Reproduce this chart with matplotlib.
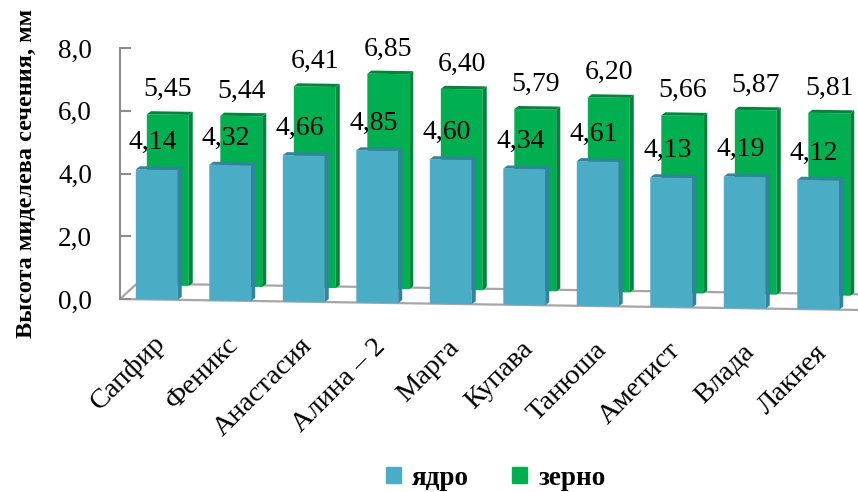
import matplotlib.pyplot as plt
from matplotlib.patches import Polygon, Patch
from matplotlib.transforms import Affine2D

# data
varieties = ["Сапфир", "Феникс", "Анастасия", "Алина – 2", "Марга",
             "Купава", "Танюша", "Аметист", "Влада", "Лакнея"]
kernel = [4.14, 4.32, 4.66, 4.85, 4.60, 4.34, 4.61, 4.13, 4.19, 4.12]
grain = [5.45, 5.44, 6.41, 6.85, 6.40, 5.79, 6.20, 5.66, 5.87, 5.81]
yticks = [0, 2, 4, 6, 8]

c_kernel, c_kernel_dark = "#4bacc6", "#31849b"
c_grain, c_grain_dark = "#00b050", "#00863c"
grid_c = "#8c8c8c"

plt.rcParams["font.family"] = ["Liberation Serif", "DejaVu Serif"]

fig = plt.figure(figsize=(8.58, 4.92), dpi=100)
ax = fig.add_axes([120 / 858, 193 / 492, 735 / 858, 251 / 492])
ax.set_xlim(-0.5, 9.5)
ax.set_ylim(0, 8)

# slight perspective tilt of the floor (bars drift down to the right)
x0, y0 = 120, 193
tilt = Affine2D().translate(-x0, -y0).skew_deg(0, -0.85).translate(x0, y0)
tr = ax.transData + tilt

w = 0.57           # bar width
dx, dy = 0.15, 0.45  # depth offset of the back row
sx, sy = 0.055, 0.1  # side / top face depth

# floor
floor = Polygon([(-0.5, 0), (9.6, 0), (9.6 + 0.23, 0.5), (-0.5 + 0.23, 0.5)],
                closed=True, facecolor="white", edgecolor="#a6a6a6", lw=1.6,
                transform=tr, zorder=1, clip_on=False)
ax.add_patch(floor)


def bar3d(xc, base, val, front, dark, z):
    ax.bar(xc, val - base, bottom=base, width=w, color=front, transform=tr,
           zorder=z, clip_on=False, linewidth=0)
    r = xc + w / 2
    l = xc - w / 2
    ax.add_patch(Polygon([(r, base), (r + sx, base + sy), (r + sx, val + sy), (r, val)],
                         closed=True, facecolor=dark, lw=0, transform=tr, zorder=z,
                         clip_on=False))
    ax.add_patch(Polygon([(l, val), (r, val), (r + sx, val + sy), (l + sx, val + sy)],
                         closed=True, facecolor=dark, lw=0, transform=tr, zorder=z,
                         clip_on=False))


for i in range(len(varieties)):
    bar3d(i + dx, dy, grain[i] + dy, c_grain, c_grain_dark, 2)
for i in range(len(varieties)):
    bar3d(i, 0, kernel[i], c_kernel, c_kernel_dark, 3)

# value labels
for i in range(len(varieties)):
    ax.annotate(f"{grain[i]:.2f}".replace(".", ","), (i + dx, grain[i] + dy),
                xycoords=tr, xytext=(0, 25), textcoords="offset pixels",
                ha="center", va="center", fontsize=20, zorder=5)
    ax.annotate(f"{kernel[i]:.2f}".replace(".", ","), (i, kernel[i]),
                xycoords=tr, xytext=(-4, 27), textcoords="offset pixels",
                ha="center", va="center", fontsize=20, zorder=5)

# category labels
for i, name in enumerate(varieties):
    ax.annotate(name, (i, 0), xycoords=tr, xytext=(5, -40),
                textcoords="offset pixels", ha="right", va="center",
                rotation=45, rotation_mode="anchor", fontsize=20.5)

# axes styling
for s in ["top", "right", "bottom"]:
    ax.spines[s].set_visible(False)
ax.spines["left"].set_color(grid_c)
ax.spines["left"].set_linewidth(1.5)
ax.set_xticks([])
ax.set_yticks(yticks)
ax.set_yticklabels([f"{v:.1f}".replace(".", ",") for v in yticks], fontsize=19.5)
ax.tick_params(axis="y", direction="in", length=8, width=1.5, color=grid_c, pad=20)
ax.set_ylabel("Высота миделева сечения, мм", fontsize=17.5, fontweight="bold",
              labelpad=15)

handles = [Patch(color=c_kernel, label="ядро"), Patch(color=c_grain, label="зерно")]
fig.legend(handles=handles, loc="center", bbox_to_anchor=(0.578, 0.028), ncol=2,
           frameon=False, handlelength=0.55, handleheight=0.55, handletextpad=0.4,
           columnspacing=1.6, prop={"weight": "bold", "size": 19.5})

fig.savefig("out.png", dpi=100)
